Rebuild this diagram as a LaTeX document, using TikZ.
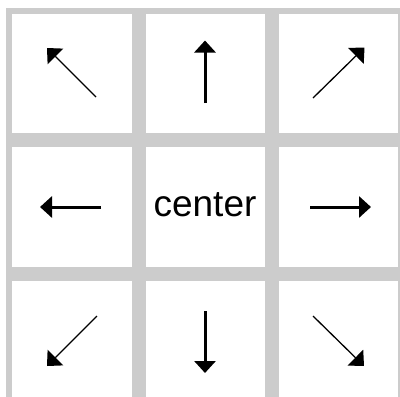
\documentclass[tikz,border=0pt]{standalone}
\usepackage{fontspec}
\setmainfont{Liberation Sans}
\usetikzlibrary{arrows.meta}
\definecolor{gridgray}{HTML}{CCCCCC}
\begin{document}
\begin{tikzpicture}[x=1bp,y=-1bp,
  cell/.style={fill=white, draw=none, inner sep=0pt, outer sep=0pt},
  straightarrow/.style={line width=3bp, -{Triangle[length=12bp,width=21bp]}},
  diagarrow/.style={line width=1.3bp, -{Triangle[length=12bp,width=22bp]}},
  label/.style={font=\fontsize{37bp}{40bp}\selectfont, inner sep=0pt, anchor=base}]
\useasboundingbox (0,0) rectangle (400,397);
\fill[gridgray] (6,8) rectangle (399.5,397);
% cells
\node[cell, minimum width=120bp, minimum height=119bp] (nw) at (72,73.5) {};
\node[cell, minimum width=119bp, minimum height=119bp] (n)  at (205.5,73.5) {};
\node[cell, minimum width=119.3bp, minimum height=119bp] (ne) at (338.65,73.5) {};
\node[cell, minimum width=120bp, minimum height=120bp] (w)  at (72,207) {};
\node[cell, minimum width=119bp, minimum height=120bp] (c)  at (205.5,207) {};
\node[cell, minimum width=119.3bp, minimum height=120bp] (e)  at (338.65,207) {};
\node[cell, minimum width=120bp, minimum height=116bp] (sw) at (72,339) {};
\node[cell, minimum width=119bp, minimum height=116bp] (s)  at (205.5,339) {};
\node[cell, minimum width=119.3bp, minimum height=116bp] (se) at (338.65,339) {};
% label
\node[label] (lbl) at (205,216) {center};
% arrows
\draw[diagarrow] (96,97) -- (47,48);
\draw[straightarrow] (205,103) -- (205,40.5);
\draw[diagarrow] (313,98) -- (364.5,47.5);
\draw[straightarrow] (101,207) -- (40,207);
\draw[straightarrow] (310,207) -- (371,207);
\draw[diagarrow] (97,316) -- (47,366);
\draw[straightarrow] (205,311) -- (205,373);
\draw[diagarrow] (313,316) -- (364,366);
\end{tikzpicture}
\end{document}
